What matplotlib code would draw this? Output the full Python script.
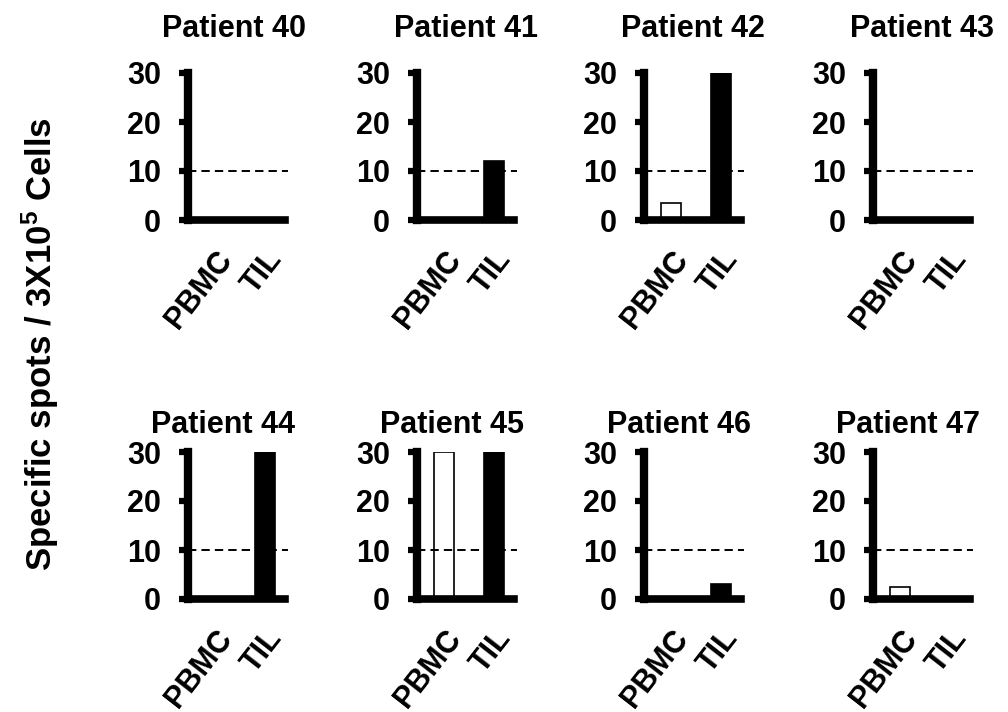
import matplotlib
matplotlib.use("Agg")
import matplotlib.pyplot as plt
from matplotlib.transforms import ScaledTranslation

plt.rcParams['font.family'] = ['Liberation Sans', 'DejaVu Sans']
plt.rcParams['font.weight'] = 'bold'
plt.rcParams['mathtext.fontset'] = 'custom'
plt.rcParams['mathtext.rm'] = 'Liberation Sans:bold'
plt.rcParams['mathtext.bf'] = 'Liberation Sans:bold'
plt.rcParams['mathtext.it'] = 'Liberation Sans:bold'

# data (spots / 3x10^5 cells, axis capped at 30)
patients = [40, 41, 42, 43, 44, 45, 46, 47]
groups = ['PBMC', 'TIL']
pbmc = [0, 0, 3.5, 0, 0, 30, 0, 2.5]
til = [0, 12, 30, 0, 30, 30, 3, 0]
threshold = 10
yticks = [0, 10, 20, 30]

W, H = 1008, 712
fig = plt.figure(figsize=(W / 100, H / 100), dpi=100)

col_left = [188, 417, 644, 873]
row_top = [73, 452]
ax_w, ax_h = 97, 147

for i, pid in enumerate(patients):
    r, c = divmod(i, 4)
    ax = fig.add_axes([col_left[c] / W, 1 - (row_top[r] + ax_h) / H, ax_w / W, ax_h / H])

    ax.bar(0, pbmc[i], width=0.4, color='white', edgecolor='black', linewidth=1.2, zorder=2)
    ax.bar(1, til[i], width=0.4, color='black', edgecolor='black', linewidth=1.2, zorder=2)
    ax.axhline(threshold, xmin=0, xmax=1.03, color='black', lw=1.4,
               linestyle=(0, (4.3, 2.6)), zorder=3, clip_on=False)

    ax.set_xlim(-0.54, 1.40)
    ax.set_ylim(0, 30)
    ax.set_yticks(yticks)
    ax.set_xticks([0, 1])
    ax.set_xticklabels(groups, rotation=52, ha='right', va='top',
                       rotation_mode='anchor', fontsize=22, fontweight='bold')
    for lab in ax.get_xticklabels():
        lab.set_transform(lab.get_transform() + ScaledTranslation(2 / 72, 0, fig.dpi_scale_trans))
    ax.tick_params(axis='y', length=6.5, width=4.5, pad=13, labelsize=22)
    ax.tick_params(axis='x', length=0, pad=18)
    for lab in ax.get_yticklabels():
        lab.set_fontweight('bold')

    for s in ['top', 'right']:
        ax.spines[s].set_visible(False)
    ax.spines['left'].set_linewidth(6)
    ax.spines['bottom'].set_linewidth(5.5)

    if r == 0:
        dx, dy = (-2 if c == 0 else 0), 26
    else:
        dx, dy = -9.4, 13.7
    ax.annotate('Patient %d' % pid, xy=(0.5, 1.0), xycoords='axes fraction',
                xytext=(dx, dy), textcoords='offset points',
                ha='center', va='baseline', fontsize=22, fontweight='bold')

fig.text(40 / W, 1 - 344 / H, r'Specific spots / 3X10$^{5}$ Cells', rotation=90,
         ha='center', va='center', fontsize=25, fontweight='bold')

fig.savefig('out.png', dpi=100, facecolor='white')
